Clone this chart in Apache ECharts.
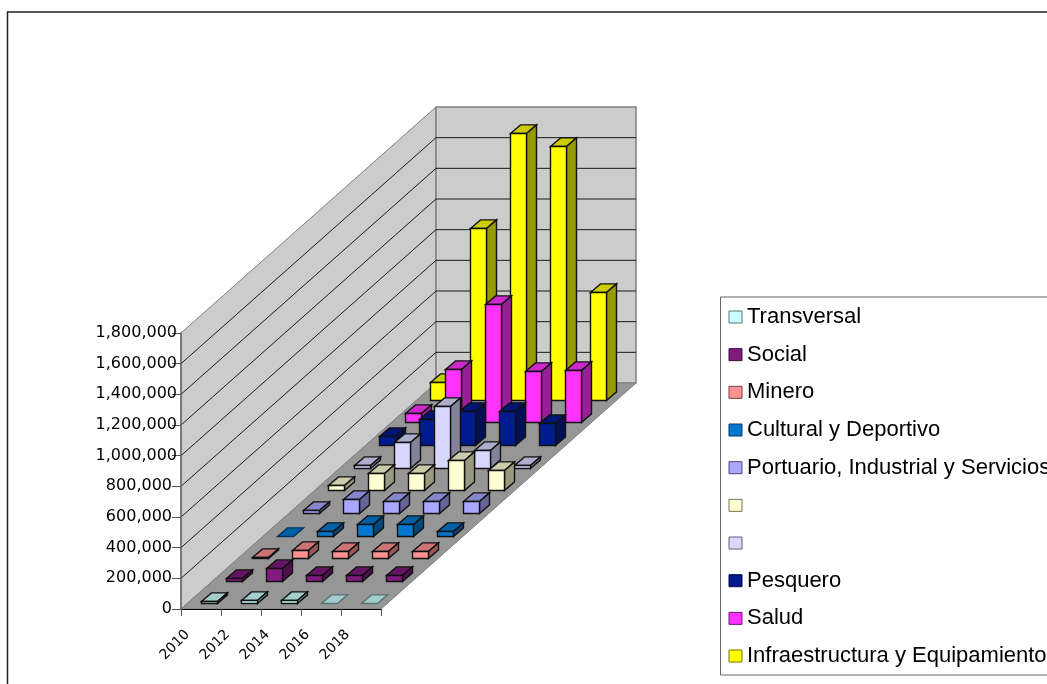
<!DOCTYPE html>
<html><head><meta charset="utf-8">
<style>html,body{margin:0;padding:0;background:#fff}#c{width:1047px;height:684px}</style>
<script src="https://cdn.jsdelivr.net/npm/echarts@6/dist/echarts.min.js"></script>
</head><body><div id="c"></div>
<script>
var years = ['2010','2012','2014','2016','2018'];
var yTicks = [0,200000,400000,600000,800000,1000000,1200000,1400000,1600000,1800000];
var names = ['Transversal','Social','Minero','Cultural y Deportivo','Portuario, Industrial y Servicios','\u00a0','\u00a0\u00a0','Pesquero','Salud','Infraestructura y Equipamiento'];
var colors = ['#ccffff','#801a7f','#ff9090','#0078d0','#a8a8ff','#ffffd4','#d8d8ff','#001a90','#ff33ff','#ffff00'];
var transversal = [15000,22000,22000,0,0];
var social = [26000,86000,41000,41000,41000];
var minero = [13000,56000,50000,50000,46000];
var cultural = [0,37000,82000,82000,37000];
var portuario = [20000,95000,82000,82000,82000];
var serieF = [33000,115000,115000,200000,132000];
var serieG = [24000,170000,410000,120000,20000];
var pesquero = [60000,170000,225000,225000,145000];
var salud = [59000,346000,770000,333000,340000];
var infra = [122000,1126000,1745000,1657000,705000];
var seriesValues = [transversal,social,minero,cultural,portuario,serieF,serieG,pesquero,salud,infra];

var STEP_X = 25.5, STEP_Y = 22.6, BAR_DX = 10, BAR_DY = 8.6, FRONT_X = 7.75, FRONT_Y = 5.7, SLOTS = 10;

function shade(hex, f){
  var n = parseInt(hex.slice(1),16);
  var r = Math.round((n>>16&255)*f), g = Math.round((n>>8&255)*f), b = Math.round((n&255)*f);
  return 'rgb('+r+','+g+','+b+')';
}
function barRender(s){
  return function(params, api){
    var c = api.value(0), v = api.value(1);
    var base = api.coord([c,0]), top = api.coord([c,v]), w = api.size([1,0])[0]*0.4;
    var x0 = Math.round(base[0]-w/2+FRONT_X+STEP_X*s)+0.5, x1 = x0+Math.round(w);
    var yb = Math.round(base[1]-FRONT_Y-STEP_Y*s)+0.5, yt = Math.round(yb-(base[1]-top[1]));
    yt = v>0 ? Math.min(yt+0.5,yb-1) : yb;
    var col = colors[s], edge = v>0 ? '#111' : shade(col,0.45), kids = [];
    kids.push({type:'polygon',shape:{points:[[x0,yt],[x1,yt],[x1+BAR_DX,yt-BAR_DY],[x0+BAR_DX,yt-BAR_DY]]},
      style:{fill:shade(col,0.8),stroke:edge,lineWidth:1.4}});
    if(v>0){
      kids.push({type:'polygon',shape:{points:[[x1,yt],[x1+BAR_DX,yt-BAR_DY],[x1+BAR_DX,yb-BAR_DY],[x1,yb]]},
        style:{fill:shade(col,0.6),stroke:edge,lineWidth:1.4}});
      kids.push({type:'rect',shape:{x:x0,y:yt,width:x1-x0,height:yb-yt},style:{fill:col,stroke:edge,lineWidth:1.4}});
    }
    return {type:'group',children:kids};
  };
}
function wallsRender(params, api){
  var v = api.value(0), p = api.coord([0,v]), w = api.size([1,0])[0];
  var L = p[0]-w/2, R = L+w*years.length, y = p[1], y0 = api.coord([0,0])[1], yMax = api.coord([0,1800000])[1];
  var DX = STEP_X*SLOTS, DY = STEP_Y*SLOTS, kids = [];
  if(params.dataIndex===0){
    kids.push({type:'polygon',shape:{points:[[L,y0],[L+DX,y0-DY],[L+DX,yMax-DY],[L,yMax]]},style:{fill:'#cccccc',stroke:'#808080',lineWidth:1}});
    kids.push({type:'rect',shape:{x:L+DX,y:yMax-DY,width:R-L,height:y0-yMax},style:{fill:'#cccccc',stroke:'#808080',lineWidth:1.5}});
    kids.push({type:'polygon',shape:{points:[[L,y0],[R,y0],[R+DX,y0-DY],[L+DX,y0-DY]]},style:{fill:'#969696',stroke:'#808080',lineWidth:1}});
  } else if(params.dataIndex<yTicks.length-1){
    kids.push({type:'polyline',shape:{points:[[L,y],[L+DX,y-DY],[R+DX,y-DY]]},style:{fill:'none',stroke:'#1a1a1a',lineWidth:1}});
  }
  return {type:'group',children:kids};
}
var series = [{type:'custom',name:'walls',silent:true,renderItem:wallsRender,z:1,clip:false,
  encode:{x:-1,y:0},data:yTicks.map(function(t){return [t];})}];
for(var s=SLOTS-1;s>=0;s--){
  series.push({type:'custom',name:names[s],renderItem:barRender(s),z:2,clip:false,
    itemStyle:{color:colors[s]},encode:{x:0,y:1},
    data:seriesValues[s].map(function(v,c){return [c,v];})});
}
var chart = echarts.init(document.getElementById('c'),null,{renderer:'canvas'});
chart.setOption({
  animation:false,
  backgroundColor:'#fff',
  graphic:[{type:'rect',z:-10,silent:true,shape:{x:7.5,y:12,width:1300,height:900},style:{fill:'none',stroke:'#222',lineWidth:1.5}}],
  grid:{left:181,top:333,width:200,height:276},
  xAxis:{type:'category',data:years,boundaryGap:true,z:5,
    axisLine:{lineStyle:{color:'#000',width:1}},
    axisTick:{show:true,alignWithLabel:false,length:7,lineStyle:{color:'#555'}},
    axisLabel:{interval:0,rotate:45,margin:10,align:'right',verticalAlign:'middle',padding:[0,19,0,0],
      fontFamily:'DejaVu Sans',fontSize:14,color:'#000',hideOverlap:false}},
  yAxis:{type:'value',min:0,max:1800000,interval:200000,z:5,
    axisLine:{show:true,lineStyle:{color:'#666',width:1.5}},
    axisTick:{show:true,length:9,lineStyle:{color:'#555'}},
    splitLine:{show:false},
    axisLabel:{margin:4,fontFamily:'DejaVu Sans',fontSize:16,color:'#000',
      formatter:function(v){
        var t = echarts.format.addCommas(v);
        return v>=1000000 ? t : '{s|'+t+'}';
      },
      rich:{s:{padding:[0,5,0,0],fontFamily:'DejaVu Sans',fontSize:16,color:'#000'}}}},
  legend:{orient:'vertical',left:720.5,top:297,padding:[9,8,8,8],itemGap:15.67,itemWidth:13,itemHeight:12,
    backgroundColor:'#fff',borderColor:'#666',borderWidth:1,z:6,selectedMode:false,icon:'rect',
    textStyle:{fontFamily:'Liberation Sans',fontSize:22,color:'#000',lineHeight:22},
    data:names.map(function(n,i){return {name:n,icon:'rect',itemStyle:{color:colors[i],borderColor:shade(colors[i],0.45),borderWidth:1}};})},
  series:series
});
</script></body></html>
